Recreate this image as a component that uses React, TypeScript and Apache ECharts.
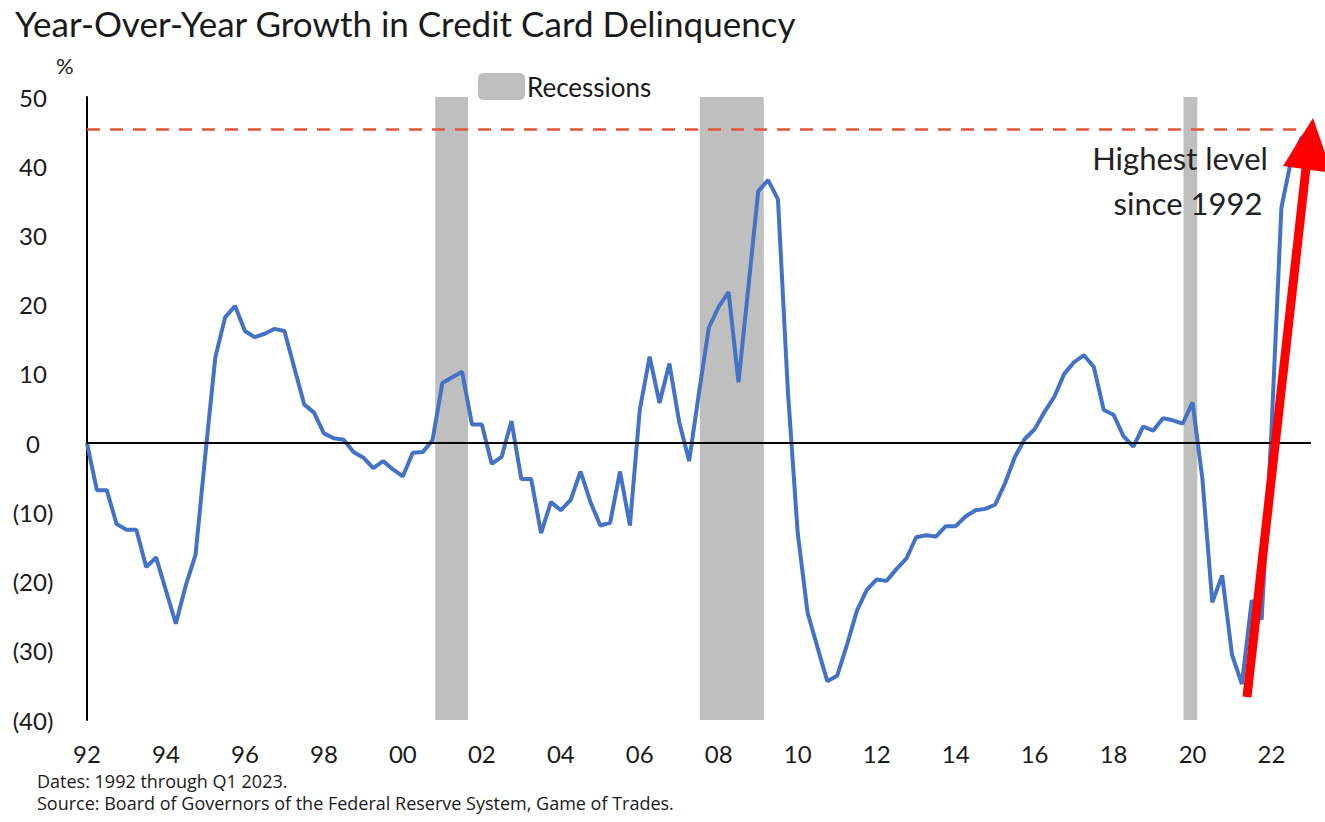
import React, { useEffect, useRef } from "react";
import * as echarts from "echarts";

const START_YEAR = 1992;
// Quarterly YoY growth in credit card delinquency (%), 1992Q1 .. 2023Q1
const growth1992to1999 = [
  0, -6.8, -6.8, -11.7, -12.5, -12.5, -17.9, -16.5,
  -21.3, -26.1, -20.6, -16.1, -1.5, 12.4, 18.2, 19.8,
  16.2, 15.3, 15.8, 16.5, 16.2, 10.9, 5.6, 4.4,
  1.4, 0.7, 0.5, -1.3, -2.1, -3.6, -2.6, -3.8,
];
const growth2000to2007 = [
  -4.8, -1.4, -1.3, 0.4, 8.7, 9.5, 10.3, 2.7,
  2.7, -3.0, -2.0, 3.2, -5.2, -5.2, -13.0, -8.5,
  -9.7, -8.2, -4.1, -8.5, -11.9, -11.5, -4.1, -11.9,
  4.8, 12.5, 5.8, 11.5, 3.0, -2.6, 7.3, 16.7,
];
const growth2008to2015 = [
  19.7, 21.8, 8.8, 22.5, 36.4, 38.0, 35.2, 7.6,
  -13.0, -24.5, -29.5, -34.4, -33.6, -29.1, -24.2, -21.2,
  -19.7, -19.9, -18.2, -16.7, -13.6, -13.3, -13.5, -12.0,
  -12.0, -10.6, -9.7, -9.5, -8.9, -5.8, -2.0, 0.6,
];
const growth2016to2023 = [
  2.0, 4.5, 6.7, 10.0, 11.7, 12.7, 11.0, 4.8,
  4.1, 1.0, -0.5, 2.4, 1.8, 3.6, 3.3, 2.8,
  5.9, -5.2, -23.0, -19.1, -30.6, -34.8, -22.7, -25.5,
  2.0, 34.0, 41.0, 44.0, 45.3,
];
const growth = [...growth1992to1999, ...growth2000to2007, ...growth2008to2015, ...growth2016to2023];

const recessions: [number, number][] = [
  [2000.82, 2001.65],
  [2007.52, 2009.14],
  [2019.77, 2020.12],
];
const highestLevel = 45.3;

const TITLE = "Year-Over-Year Growth in Credit Card Delinquency";
const NOTE_DATES = "Dates: 1992 through Q1 2023.";
const NOTE_SOURCE = "Source: Board of Governors of the Federal Reserve System, Game of Trades.";
const FONT = "Lato, 'Open Sans', sans-serif";
const NOTE_FONT = "'Open Sans', Lato, sans-serif";

export default function App() {
  const ref = useRef<HTMLDivElement>(null);
  useEffect(() => {
    if (!ref.current) return;
    const chart = echarts.init(ref.current, null, { renderer: "svg" });
    const lineData = growth.map((v, i) => [START_YEAR + i / 4, v]);
    const option: any = {
      animation: false,
      backgroundColor: "#ffffff",
      textStyle: { fontFamily: FONT },
      title: {
        text: TITLE,
        left: 10,
        top: 0,
        textStyle: { fontSize: 35, fontWeight: "normal", color: "#1a1a1a", fontFamily: FONT },
      },
      grid: { left: 87, right: 14, top: 97, bottom: 102, containLabel: false },
      xAxis: {
        type: "value",
        min: 1992,
        max: 2023,
        interval: 2,
        axisLine: { show: false },
        axisTick: { show: false },
        splitLine: { show: false },
        axisLabel: {
          showMaxLabel: false,
          margin: 21,
          fontSize: 24,
          lineHeight: 24,
          color: "#1a1a1a",
          fontFamily: FONT,
          formatter: (v: number) => String(Math.round(v) % 100).padStart(2, "0"),
        },
      },
      yAxis: {
        type: "value",
        min: -40,
        max: 50,
        interval: 10,
        axisLine: { show: true, lineStyle: { color: "#000", width: 2 } },
        axisTick: { show: false },
        splitLine: { show: false },
        axisLabel: {
          align: "center",
          margin: 54,
          fontSize: 24,
          color: "#1a1a1a",
          fontFamily: FONT,
          formatter: (v: number) => (v < 0 ? `(${-v})` : String(v)),
        },
      },
      series: [
        {
          name: "Recessions",
          type: "line",
          data: [],
          z: 1,
          silent: true,
          markArea: {
            silent: true,
            itemStyle: { color: "#BFBFBF" },
            data: recessions.map(([a, b]) => [{ xAxis: a }, { xAxis: b }]),
          },
        },
        {
          name: "Reference lines",
          type: "line",
          data: [],
          z: 2,
          silent: true,
          markLine: {
            silent: true,
            symbol: ["none", "none"],
            label: { show: false },
            data: [
              { yAxis: 0, lineStyle: { color: "#000", width: 2, type: "solid" } },
              { yAxis: highestLevel, lineStyle: { color: "#E2553A", width: 2.5, type: [13, 10] } },
            ],
          },
        },
        {
          name: "YoY growth",
          type: "line",
          data: lineData,
          z: 3,
          symbol: "none",
          lineStyle: { color: "#4472C4", width: 4 },
        },
      ],
      graphic: [
        { type: "text", left: 56, top: 54, style: { text: "%", fill: "#1a1a1a", font: `22px ${FONT}` } },
        { type: "rect", shape: { x: 478, y: 73, width: 47, height: 27, r: 5 }, style: { fill: "#BFBFBF" } },
        {
          type: "text",
          x: 527,
          y: 87,
          style: { text: "Recessions", font: `26px ${FONT}`, fill: "#1a1a1a", textVerticalAlign: "middle" },
        },
        {
          type: "text",
          x: 1180,
          y: 158,
          style: { text: "Highest level", font: `31px ${FONT}`, fill: "#222", textAlign: "center", textVerticalAlign: "middle" },
          z: 10,
        },
        {
          type: "text",
          x: 1188,
          y: 203,
          style: { text: "since 1992", font: `31px ${FONT}`, fill: "#222", textAlign: "center", textVerticalAlign: "middle" },
          z: 10,
        },
        {
          type: "line",
          shape: { x1: 1247, y1: 697, x2: 1306, y2: 168 },
          style: { stroke: "#FF0000", lineWidth: 9 },
          z: 20,
        },
        {
          type: "polygon",
          shape: { points: [[1313, 118], [1283, 166], [1332, 173]] },
          style: { fill: "#FF0000" },
          z: 20,
        },
        {
          type: "text",
          x: 37,
          y: 781,
          style: { text: NOTE_DATES, font: `18px ${NOTE_FONT}`, fill: "#1a1a1a", textVerticalAlign: "middle" },
        },
        {
          type: "text",
          x: 37,
          y: 803,
          style: { text: NOTE_SOURCE, font: `18px ${NOTE_FONT}`, fill: "#1a1a1a", textVerticalAlign: "middle" },
        },
      ],
    };
    chart.setOption(option);
    return () => chart.dispose();
  }, []);
  return (
    <div
      ref={ref}
      style={{ position: "fixed", left: 0, top: 0, width: 1325, height: 822, background: "#fff" }}
    />
  );
}
